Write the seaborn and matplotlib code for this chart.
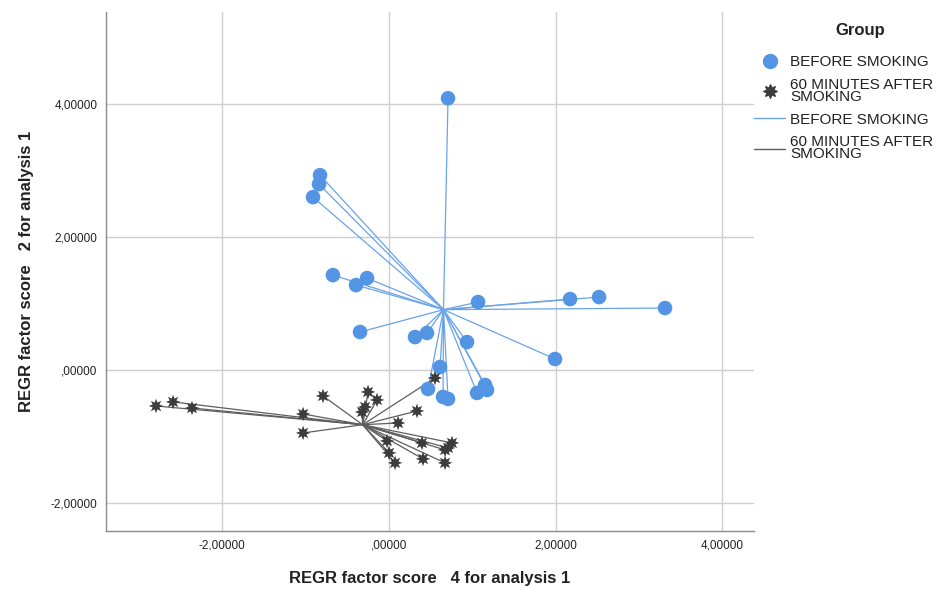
import numpy as np
import pandas as pd
import matplotlib
matplotlib.use("Agg")
import matplotlib.pyplot as plt
from matplotlib.lines import Line2D
from matplotlib.ticker import FuncFormatter, MultipleLocator
import seaborn as sns

groups = ["BEFORE SMOKING", "60 MINUTES AFTER\nSMOKING"]

before_x = [0.711, -0.824, -0.836, -0.908, -0.669, -0.392, -0.260, -0.344, 0.315, 0.459,
            0.939, 0.615, 0.471, 0.651, 0.711, 1.059, 1.155, 1.179, 1.071, 2.174,
            2.522, 3.313, 1.994]
before_y = [4.084, 2.928, 2.793, 2.598, 1.426, 1.276, 1.381, 0.571, 0.495, 0.556,
            0.420, 0.045, -0.285, -0.405, -0.435, -0.345, -0.225, -0.300, 1.021, 1.066,
            1.096, 0.931, 0.165]

after_x = [-2.790, -2.586, -2.359, -1.027, -1.027, -0.788, 0.555, -0.248, -0.140, -0.284,
           -0.320, 0.339, 0.112, -0.020, 0.004, 0.076, 0.399, 0.411, 0.759, 0.675,
           0.675, 0.711]
after_y = [-0.541, -0.480, -0.571, -0.661, -0.946, -0.390, -0.120, -0.330, -0.450, -0.556,
           -0.631, -0.616, -0.796, -1.066, -1.246, -1.396, -1.096, -1.336, -1.096, -1.201,
           -1.396, -1.171]

x_label = "REGR factor score   4 for analysis 1"
y_label = "REGR factor score   2 for analysis 1"
legend_title = "Group"

blue = "#5395e4"
blue_line = "#69a3ea"
dark = "#3c3c3c"
gray_line = "#5e5e5e"

df = pd.DataFrame({
    "x": before_x + after_x,
    "y": before_y + after_y,
    "Group": [groups[0]] * len(before_x) + [groups[1]] * len(after_x),
})

# segments from group centroid to each point
seg_rows = []
for g, sub in df.groupby("Group", sort=False):
    cx, cy = sub["x"].mean(), sub["y"].mean()
    for i, (px, py) in enumerate(zip(sub["x"], sub["y"])):
        uid = f"{g}_{i}"
        seg_rows.append({"x": cx, "y": cy, "Group": g, "uid": uid, "o": 0})
        seg_rows.append({"x": px, "y": py, "Group": g, "uid": uid, "o": 1})
seg = pd.DataFrame(seg_rows)

sns.set_theme(style="white")
plt.rcParams["font.family"] = ["Liberation Sans", "DejaVu Sans"]

fig = plt.figure(figsize=(9.39, 5.92), dpi=100)
ax = fig.add_axes([0.1129, 0.103, 0.803 - 0.1129, 0.9797 - 0.103])

palette_lines = {groups[0]: blue_line, groups[1]: gray_line}
palette_pts = {groups[0]: blue, groups[1]: dark}
star = (8, 1, 0)

sns.lineplot(data=seg, x="x", y="y", hue="Group", units="uid", estimator=None,
             sort=False, palette=palette_lines, linewidth=0.9, legend=False, ax=ax, zorder=2)
sns.scatterplot(data=df, x="x", y="y", hue="Group", style="Group",
                markers={groups[0]: "o", groups[1]: star},
                palette=palette_pts, s=110, linewidth=0, legend=False, ax=ax, zorder=3)

ax.set_xlim(-3.39, 4.38)
ax.set_ylim(-2.42, 5.38)
ax.xaxis.set_major_locator(MultipleLocator(2))
ax.yaxis.set_major_locator(MultipleLocator(2))

def fmt(v, pos):
    s = f"{v:.5f}".replace(".", ",")
    if s.startswith("0,"):
        s = s[1:]
    if s.startswith("-0,"):
        s = s[2:]
    return s

ax.xaxis.set_major_formatter(FuncFormatter(fmt))
ax.yaxis.set_major_formatter(FuncFormatter(fmt))
ax.grid(True, color="#cfcfcf", linewidth=1.0)
ax.set_axisbelow(True)
for sp in ["top", "right"]:
    ax.spines[sp].set_visible(False)
for sp in ["left", "bottom"]:
    ax.spines[sp].set_color("#8c8c8c")
    ax.spines[sp].set_linewidth(1.0)
ax.tick_params(axis="both", length=0, labelsize=8.5, colors="#222222", pad=6)
ax.set_xlabel(x_label, fontsize=12, fontweight="bold", color="#222222", labelpad=14)
ax.set_ylabel(y_label, fontsize=12, fontweight="bold", color="#222222", labelpad=12)

handles = [
    Line2D([], [], linestyle="none", marker="o", color=blue, markersize=10),
    Line2D([], [], linestyle="none", marker=star, color=dark, markersize=10),
    Line2D([], [], color=blue_line, linewidth=1.0),
    Line2D([], [], color=gray_line, linewidth=1.0),
]
labels = [groups[0], groups[1], groups[0], groups[1]]
fig.text(860 / 939, 1 - 30 / 592, legend_title, ha="center", va="center",
         fontsize=12, fontweight="bold", color="#222222")
leg = fig.legend(handles, labels, loc="upper left",
                 bbox_to_anchor=(0.797, 1 - 49 / 592), frameon=False, fontsize=11,
                 handlelength=2.0, handletextpad=0.35,
                 labelspacing=0.58, borderaxespad=0)
for t in leg.get_texts():
    t.set_linespacing(0.8)
    t.set_color("#222222")

fig.savefig("out.png", dpi=100)
